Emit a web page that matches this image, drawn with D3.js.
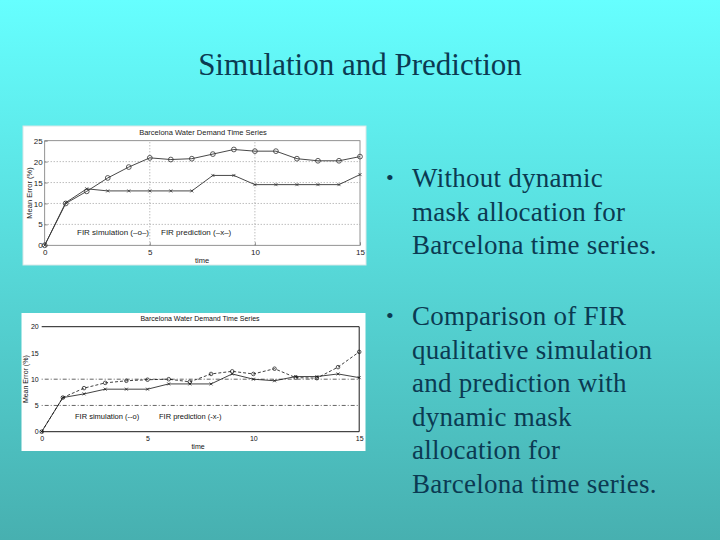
<!DOCTYPE html>
<html><head><meta charset="utf-8">
<script src="https://cdn.jsdelivr.net/npm/d3@7"></script>
<style>
html,body{margin:0;padding:0;}
body{width:720px;height:540px;overflow:hidden;}
</style></head>
<body>
<svg id="slide" width="720" height="540"></svg>
<script>
// ---- data ----
const slideTitle = "Simulation and Prediction";
const chartTitle = "Barcelona Water Demand Time Series";
const timeSteps = [0,1,2,3,4,5,6,7,8,9,10,11,12,13,14,15];
// Chart 1: without dynamic mask allocation
const sim1  = [0,10.0,12.9,16.1,18.7,20.9,20.5,20.7,21.8,22.9,22.5,22.5,20.7,20.2,20.2,21.2];
const pred1 = [0,10.2,13.5,13.0,13.0,13.0,13.0,13.0,16.7,16.7,14.5,14.5,14.5,14.5,14.5,16.9];
// Chart 2: with dynamic mask allocation
const sim2  = [0,6.5,8.3,9.3,9.7,9.9,10.0,9.5,11.0,11.5,11.0,12.0,10.3,10.2,12.3,15.2];
const pred2 = [0,6.5,7.2,8.1,8.1,8.1,9.1,9.1,9.1,11.0,10.0,9.7,10.5,10.5,11.0,10.3];
const xTicks = [0,5,10,15];
const yTicks1 = [0,5,10,15,20,25];
const yTicks2 = [0,5,10,15,20];
const legendSim1 = "FIR simulation (\u2013o\u2013)";
const legendPred1 = "FIR prediction (\u2013x\u2013)";
const legendSim2 = "FIR simulation (--o)";
const legendPred2 = "FIR prediction (-x-)";
const bullets = [
  ["Without dynamic","mask allocation for","Barcelona time series."],
  ["Comparison of FIR","qualitative simulation","and prediction with","dynamic mask","allocation for","Barcelona time series."]
];

const svg = d3.select("#slide");
const defs = svg.append("defs");
const grad = defs.append("linearGradient").attr("id","bg").attr("x1",0).attr("y1",0).attr("x2",0).attr("y2",1);
grad.append("stop").attr("offset","0%").attr("stop-color","#66FFFF");
grad.append("stop").attr("offset","100%").attr("stop-color","#47B0B0");
svg.append("rect").attr("width",720).attr("height",540).attr("fill","url(#bg)");

const textColor = "#0B3A52";
svg.append("text").attr("x",360).attr("y",75).attr("text-anchor","middle")
  .attr("font-family","'Liberation Serif','Times New Roman',serif").attr("font-size",31)
  .attr("fill",textColor).text(slideTitle);

// bullets
const bulletStarts = [187, 325];
bullets.forEach((lines,bi)=>{
  svg.append("text").attr("x",386).attr("y",bulletStarts[bi]-2)
    .attr("font-family","'Liberation Serif',serif").attr("font-size",22).attr("fill",textColor).text("\u2022");
  lines.forEach((ln,li)=>{
    svg.append("text").attr("x",412).attr("y",bulletStarts[bi]+li*33.6)
      .attr("font-family","'Liberation Serif','Times New Roman',serif").attr("font-size",27)
      .attr("letter-spacing","0.25").attr("fill",textColor).text(ln);
  });
});

const sans = "'Liberation Sans',Arial,sans-serif";

// ---------- Chart 1 ----------
(function(){
  const g = svg.append("g");
  g.append("rect").attr("x",23).attr("y",126).attr("width",343).attr("height",139)
    .attr("fill","#fff").attr("stroke","#d8e8e8").attr("stroke-width",1);
  const x = d3.scaleLinear().domain([0,15]).range([44.7,360]);
  const y = d3.scaleLinear().domain([0,25]).range([245.3,140.7]);
  g.append("g").selectAll("line").data(yTicks1.filter(v=>v>0&&v<25)).join("line")
    .attr("x1",x(0)).attr("x2",x(15)).attr("y1",d=>y(d)).attr("y2",d=>y(d))
    .attr("stroke","#777").attr("stroke-width",0.7).attr("stroke-dasharray","1,2");
  g.append("g").selectAll("line").data(xTicks.filter(v=>v>0&&v<15)).join("line")
    .attr("y1",y(0)).attr("y2",y(25)).attr("x1",d=>x(d)).attr("x2",d=>x(d))
    .attr("stroke","#777").attr("stroke-width",0.7).attr("stroke-dasharray","1,2");
  g.append("rect").attr("x",x(0)).attr("y",y(25)).attr("width",x(15)-x(0)).attr("height",y(0)-y(25))
    .attr("fill","none").attr("stroke","#777").attr("stroke-width",0.8);
  const ax = g.append("g").attr("transform",`translate(0,${y(0)})`)
    .call(d3.axisBottom(x).tickValues(xTicks).tickSize(-3).tickPadding(4));
  const ay = g.append("g").attr("transform",`translate(${x(0)},0)`)
    .call(d3.axisLeft(y).tickValues(yTicks1).tickSize(-3).tickPadding(2));
  [ax,ay].forEach(a=>{
    a.select(".domain").remove();
    a.selectAll(".tick line").attr("stroke","#666").attr("stroke-width",0.7);
    a.selectAll("text").attr("font-family",sans).attr("font-size",8).attr("fill","#222");
  });
  g.append("text").attr("x",203).attr("y",135).attr("text-anchor","middle")
    .attr("font-family",sans).attr("font-size",7.5).attr("fill","#222").text(chartTitle);
  g.append("text").attr("x",202).attr("y",263).attr("text-anchor","middle")
    .attr("font-family",sans).attr("font-size",7.5).attr("fill","#222").text("time");
  g.append("text").attr("transform",`translate(32,${(y(0)+y(25))/2}) rotate(-90)`).attr("text-anchor","middle")
    .attr("font-family",sans).attr("font-size",7.5).attr("fill","#222").text("Mean Error (%)");
  g.append("text").attr("x",77).attr("y",235).attr("font-family",sans).attr("font-size",8).attr("fill","#222").text(legendSim1);
  g.append("text").attr("x",161).attr("y",235).attr("font-family",sans).attr("font-size",8).attr("fill","#222").text(legendPred1);
  const line = d3.line().x((d,i)=>x(timeSteps[i])).y(d=>y(d));
  g.append("path").datum(sim1).attr("d",line).attr("fill","none").attr("stroke","#333").attr("stroke-width",0.9);
  g.append("path").datum(pred1).attr("d",line).attr("fill","none").attr("stroke","#333").attr("stroke-width",0.9);
  g.append("g").selectAll("circle").data(sim1).join("circle")
    .attr("cx",(d,i)=>x(timeSteps[i])).attr("cy",d=>y(d)).attr("r",2.4)
    .attr("fill","none").attr("stroke","#333").attr("stroke-width",0.8);
  g.append("g").selectAll("path").data(pred1).join("path")
    .attr("d",(d,i)=>{const cx=x(timeSteps[i]),cy=y(d),s=1.5;return `M${cx-s},${cy-s}L${cx+s},${cy+s}M${cx-s},${cy+s}L${cx+s},${cy-s}`;})
    .attr("stroke","#333").attr("stroke-width",0.8);
})();

// ---------- Chart 2 ----------
(function(){
  const g = svg.append("g");
  g.append("rect").attr("x",21.5).attr("y",313).attr("width",344).attr("height",138)
    .attr("fill","#fff");
  const x = d3.scaleLinear().domain([0,15]).range([41.7,359.2]);
  const y = d3.scaleLinear().domain([0,20]).range([431.7,326.7]);
  g.append("g").selectAll("line").data(yTicks2.filter(v=>v>0&&v<15)).join("line")
    .attr("x1",x(0)).attr("x2",x(15)).attr("y1",d=>y(d)).attr("y2",d=>y(d))
    .attr("stroke","#222").attr("stroke-width",0.7).attr("stroke-dasharray","1,2,4,2");
  g.append("line").attr("x1",x(0)).attr("x2",x(15)).attr("y1",y(20)).attr("y2",y(20)).attr("stroke","#000").attr("stroke-width",0.9);
  g.append("line").attr("x1",x(0)).attr("x2",x(15)).attr("y1",y(0)).attr("y2",y(0)).attr("stroke","#000").attr("stroke-width",0.9);
  g.append("line").attr("x1",x(15)).attr("x2",x(15)).attr("y1",y(0)).attr("y2",y(20)).attr("stroke","#000").attr("stroke-width",0.9);
  const ax = g.append("g").attr("transform",`translate(0,${y(0)})`)
    .call(d3.axisBottom(x).tickValues(xTicks).tickSize(0).tickPadding(4));
  const ay = g.append("g").attr("transform",`translate(${x(0)},0)`)
    .call(d3.axisLeft(y).tickValues(yTicks2).tickSize(0).tickPadding(3));
  [ax,ay].forEach(a=>{
    a.select(".domain").remove();
    a.selectAll("text").attr("font-family",sans).attr("font-size",7).attr("fill","#111");
  });
  g.append("text").attr("x",200).attr("y",321).attr("text-anchor","middle")
    .attr("font-family",sans).attr("font-size",7).attr("fill","#111").text(chartTitle);
  g.append("text").attr("x",198).attr("y",449).attr("text-anchor","middle")
    .attr("font-family",sans).attr("font-size",7).attr("fill","#111").text("time");
  g.append("text").attr("transform",`translate(28,${(y(0)+y(20))/2}) rotate(-90)`).attr("text-anchor","middle")
    .attr("font-family",sans).attr("font-size",7).attr("fill","#111").text("Mean Error (%)");
  g.append("text").attr("x",75).attr("y",419).attr("font-family",sans).attr("font-size",7.5).attr("fill","#111").text(legendSim2);
  g.append("text").attr("x",159).attr("y",419).attr("font-family",sans).attr("font-size",7.5).attr("fill","#111").text(legendPred2);
  const line = d3.line().x((d,i)=>x(timeSteps[i])).y(d=>y(d));
  g.append("path").datum(sim2).attr("d",line).attr("fill","none").attr("stroke","#111").attr("stroke-width",0.8).attr("stroke-dasharray","3,2");
  g.append("path").datum(pred2).attr("d",line).attr("fill","none").attr("stroke","#111").attr("stroke-width",0.8);
  g.append("g").selectAll("circle").data(sim2).join("circle")
    .attr("cx",(d,i)=>x(timeSteps[i])).attr("cy",d=>y(d)).attr("r",1.8)
    .attr("fill","none").attr("stroke","#111").attr("stroke-width",0.7);
  g.append("g").selectAll("path").data(pred2).join("path")
    .attr("d",(d,i)=>{const cx=x(timeSteps[i]),cy=y(d),s=1.5;return `M${cx-s},${cy-s}L${cx+s},${cy+s}M${cx-s},${cy+s}L${cx+s},${cy-s}`;})
    .attr("stroke","#111").attr("stroke-width",0.7);
})();
</script>
</body></html>
